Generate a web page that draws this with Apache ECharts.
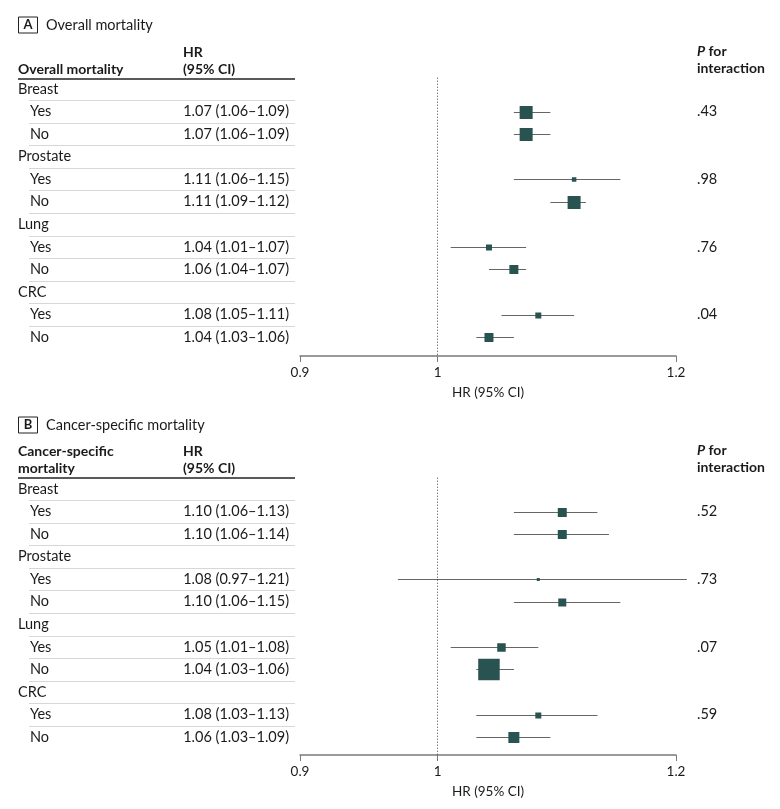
<!DOCTYPE html>
<html><head><meta charset="utf-8">
<script src="https://cdn.jsdelivr.net/npm/echarts@6/dist/echarts.min.js"></script>
<style>html,body{margin:0;padding:0;background:#fff}#c{width:780px;height:809px}</style>
</head><body><div id="c"></div>
<script>
// ---------- data ----------
const groups = ['Breast', 'Prostate', 'Lung', 'CRC'];
const subgroups = ['Yes', 'No'];
const xTicks = [0.9, 1, 1.2];

const overallHR = [1.07, 1.07, 1.11, 1.11, 1.04, 1.06, 1.08, 1.04];
const overallLo = [1.06, 1.06, 1.06, 1.09, 1.01, 1.04, 1.05, 1.03];
const overallHi = [1.09, 1.09, 1.15, 1.12, 1.07, 1.07, 1.11, 1.06];
const overallWeight = [13, 13, 4.5, 13, 6, 9, 6, 9];
const overallP = ['.43', '.98', '.76', '.04'];

const cancerHR = [1.10, 1.10, 1.08, 1.10, 1.05, 1.04, 1.08, 1.06];
const cancerLo = [1.06, 1.06, 0.97, 1.06, 1.01, 1.03, 1.03, 1.03];
const cancerHi = [1.13, 1.14, 1.21, 1.15, 1.08, 1.06, 1.13, 1.09];
const cancerWeight = [9, 9, 3, 8, 8.5, 21.5, 6, 11];
const cancerP = ['.52', '.73', '.07', '.59'];

// ---------- layout / style ----------
const FONT = 'Lato, "Noto Sans", sans-serif';
const TXT = '#1a1a1a';
const ROW = 22.55;
const panels = [
  { letter: 'A', title: 'Overall mortality', head: ['', 'Overall mortality'],
    hr: overallHR, lo: overallLo, hi: overallHi, w: overallWeight, p: overallP,
    row0: 89, axisY: 356, titleY: 25, headY: 52, lineY: 79 },
  { letter: 'B', title: 'Cancer-specific mortality', head: ['Cancer-specific', 'mortality'],
    hr: cancerHR, lo: cancerLo, hi: cancerHi, w: cancerWeight, p: cancerP,
    row0: 489, axisY: 755, titleY: 425, headY: 451, lineY: 478 }
];

const fmt = v => v.toFixed(2);

const grids = [], xAxes = [], yAxes = [], series = [], graphics = [];

panels.forEach((P, gi) => {
  const top = P.row0 - 0.5 * ROW;
  const ymax = (P.axisY - P.row0) / ROW;
  grids.push({ left: 300, width: 376, top: top, height: P.axisY - top });
  xAxes.push({
    type: 'log', gridIndex: gi, logBase: 10, min: 0.9, max: 1.2, position: 'bottom',
    axisLine: { show: true, onZero: false, lineStyle: { color: '#7a7a7a', width: 1.5 } },
    axisTick: { show: true, length: 6, customValues: xTicks, lineStyle: { color: '#7a7a7a', width: 1 } },
    axisLabel: { customValues: xTicks, formatter: v => String(Number((+v).toPrecision(3))),
      color: TXT, fontSize: 13.5, fontFamily: FONT, margin: 10 },
    splitLine: { show: false }, minorTick: { show: false }, minorSplitLine: { show: false },
    name: 'HR (95% CI)', nameLocation: 'middle', nameGap: 30,
    nameTextStyle: { color: TXT, fontSize: 13.5, fontFamily: FONT }
  });
  yAxes.push({ type: 'value', gridIndex: gi, min: -0.5, max: ymax, inverse: true, show: false });

  // table rows
  const tableData = [];
  const forestData = [];
  groups.forEach((g, k) => {
    tableData.push([1, 3 * k, 'group', g, '', '']);
    subgroups.forEach((s, j) => {
      const i = 2 * k + j;
      const row = 3 * k + 1 + j;
      tableData.push([1, row, 'sub', s, fmt(P.hr[i]) + ' (' + fmt(P.lo[i]) + '\u2013' + fmt(P.hi[i]) + ')', j === 0 ? P.p[k] : '']);
      forestData.push([P.hr[i], row, P.lo[i], P.hi[i], P.w[i]]);
    });
  });
  const nRows = groups.length * 3;

  series.push({
    type: 'custom', xAxisIndex: gi, yAxisIndex: gi, silent: true, clip: false,
    data: tableData,
    encode: { x: 0, y: 1 },
    renderItem: (params, api) => {
      const row = api.value(1);
      const d = tableData[params.dataIndex];
      const y = api.coord([1, row])[1];
      const children = [];
      if (row < nRows - 1) {
        const ly = Math.round(y + ROW / 2) + 0.5;
        children.push({ type: 'line', shape: { x1: 29, y1: ly, x2: 295, y2: ly },
          style: { stroke: '#d8d8d0', lineWidth: 1 } });
      }
      children.push({ type: 'text', style: { text: d[3], x: d[2] === 'group' ? 18 : 30, y: y,
        textAlign: 'left', textVerticalAlign: 'middle', fill: TXT, font: '14.5px ' + FONT } });
      if (d[4]) children.push({ type: 'text', style: { text: d[4], x: 289, y: y,
        textAlign: 'right', textVerticalAlign: 'middle', fill: TXT, font: '14.5px ' + FONT } });
      if (d[5]) children.push({ type: 'text', style: { text: d[5], x: 697, y: y,
        textAlign: 'left', textVerticalAlign: 'middle', fill: TXT, font: '14.5px ' + FONT } });
      return { type: 'group', children };
    }
  });

  series.push({
    type: 'custom', xAxisIndex: gi, yAxisIndex: gi, silent: true, clip: false,
    data: forestData,
    encode: { x: 0, y: 1 },
    renderItem: (params, api) => {
      const hr = api.value(0), row = api.value(1), lo = api.value(2), hi = api.value(3), w = api.value(4);
      const c = api.coord([hr, row]);
      const a = api.coord([lo, row]);
      const b = api.coord([hi, row]);
      const y = Math.round(c[1]) + 0.5;
      return { type: 'group', children: [
        { type: 'line', shape: { x1: a[0], y1: y, x2: b[0], y2: y }, style: { stroke: '#666', lineWidth: 1 } },
        { type: 'rect', shape: { x: c[0] - w / 2, y: y - w / 2, width: w, height: w },
          style: { fill: '#285350' } }
      ] };
    },
    markLine: {
      silent: true, symbol: 'none', label: { show: false },
      lineStyle: { type: [1, 2], color: '#444', width: 1 },
      data: [{ xAxis: 1 }]
    },
    z: 3
  });

  // panel title & headers
  graphics.push(
    { type: 'rect', shape: { x: 18.5, y: P.titleY - 8, width: 19, height: 16 }, style: { fill: '#fff', stroke: '#222', lineWidth: 1 } },
    { type: 'text', x: 28, y: P.titleY, style: { text: P.letter, font: 'bold 13px ' + FONT, fill: TXT, align: 'center', verticalAlign: 'middle' } },
    { type: 'text', x: 46, y: P.titleY, style: { text: P.title, font: '14.5px ' + FONT, fill: TXT, align: 'left', verticalAlign: 'middle' } },
    { type: 'text', x: 18, y: P.headY, style: { text: P.head[0], font: 'bold 14px ' + FONT, fill: TXT, align: 'left', verticalAlign: 'middle' } },
    { type: 'text', x: 18, y: P.headY + 17, style: { text: P.head[1], font: 'bold 14px ' + FONT, fill: TXT, align: 'left', verticalAlign: 'middle' } },
    { type: 'text', x: 183, y: P.headY, style: { text: 'HR', font: 'bold 14px ' + FONT, fill: TXT, align: 'left', verticalAlign: 'middle' } },
    { type: 'text', x: 183, y: P.headY + 17, style: { text: '(95% CI)', font: 'bold 14px ' + FONT, fill: TXT, align: 'left', verticalAlign: 'middle' } },
    { type: 'text', x: 697, y: P.headY - 1, style: { text: '{i|P} for', font: 'bold 14px ' + FONT, fill: TXT, align: 'left', verticalAlign: 'middle',
      rich: { i: { fontStyle: 'italic', fontWeight: 'bold', fontSize: 14, fontFamily: FONT, fill: TXT } } } },
    { type: 'text', x: 697, y: P.headY + 16, style: { text: 'interaction', font: 'bold 14px ' + FONT, fill: TXT, align: 'left', verticalAlign: 'middle' } },
    { type: 'line', shape: { x1: 18, y1: P.lineY, x2: 295, y2: P.lineY }, style: { stroke: '#222', lineWidth: 1.6 } }
  );
});

const chart = echarts.init(document.getElementById('c'), null, { renderer: 'canvas' });
chart.setOption({
  animation: false,
  backgroundColor: '#fff',
  grid: grids, xAxis: xAxes, yAxis: yAxes, series: series, graphic: graphics
});
</script></body></html>
